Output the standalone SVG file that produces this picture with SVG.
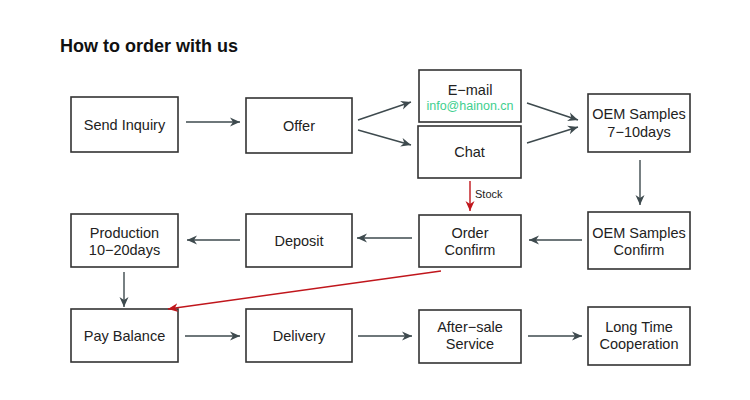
<svg xmlns="http://www.w3.org/2000/svg" width="750" height="400" viewBox="0 0 750 400">
<defs>
<marker id="ah" viewBox="0 0 10 10" refX="10" refY="5" markerWidth="10" markerHeight="10" markerUnits="userSpaceOnUse" orient="auto">
<path d="M0,0.5 L10,5 L0,9.5 L3,5 Z" fill="#3e4a4e"/>
</marker>
<marker id="ahr" viewBox="0 0 10 10" refX="10" refY="5" markerWidth="10" markerHeight="10" markerUnits="userSpaceOnUse" orient="auto">
<path d="M0,0.5 L10,5 L0,9.5 L3,5 Z" fill="#c0161c"/>
</marker>
</defs>
<style>
.box{fill:#fff;stroke:#333;stroke-width:1.6}
.t{font-family:"Liberation Sans",Arial,sans-serif;font-size:14.5px;fill:#222;text-anchor:middle}
.c{stroke:#3e4a4e;stroke-width:1.4;fill:none;marker-end:url(#ah)}
.r{stroke:#c0161c;stroke-width:1.4;fill:none;marker-end:url(#ahr)}
</style>
<rect width="750" height="400" fill="#fff"/>
<text x="60" y="52" font-family="Liberation Sans,Arial,sans-serif" font-size="18" font-weight="bold" fill="#111">How to order with us</text>

<g id="send-inquiry"><rect class="box" x="71" y="97" width="107" height="55"/><text class="t" x="124.5" y="130">Send Inquiry</text></g>
<g id="offer"><rect class="box" x="246" y="98" width="106" height="55"/><text class="t" x="299" y="131">Offer</text></g>
<g id="email"><rect class="box" x="419" y="70" width="102" height="52"/><text class="t" x="470" y="95">E−mail</text><text x="470" y="110" font-family="Liberation Sans,Arial,sans-serif" font-size="12.5" fill="#3ecf8e" text-anchor="middle">info@hainon.cn</text></g>
<g id="chat"><rect class="box" x="418" y="126" width="103" height="52"/><text class="t" x="469.5" y="157">Chat</text></g>
<g id="oem-samples"><rect class="box" x="588" y="94" width="102" height="58"/><text class="t" x="639" y="119">OEM Samples</text><text class="t" x="639" y="137">7−10days</text></g>

<g id="production"><rect class="box" x="71" y="214" width="107" height="53"/><text class="t" x="124.5" y="238">Production</text><text class="t" x="124.5" y="255">10−20days</text></g>
<g id="deposit"><rect class="box" x="246" y="214" width="106" height="53"/><text class="t" x="299" y="246">Deposit</text></g>
<g id="order-confirm"><rect class="box" x="419" y="215" width="102" height="52"/><text class="t" x="470" y="238">Order</text><text class="t" x="470" y="255">Confirm</text></g>
<g id="oem-confirm"><rect class="box" x="588" y="212" width="102" height="57"/><text class="t" x="639" y="238">OEM Samples</text><text class="t" x="639" y="255">Confirm</text></g>

<g id="pay-balance"><rect class="box" x="71" y="309" width="107" height="53"/><text class="t" x="124.5" y="341">Pay Balance</text></g>
<g id="delivery"><rect class="box" x="246" y="309" width="106" height="53"/><text class="t" x="299" y="341">Delivery</text></g>
<g id="after-sale"><rect class="box" x="419" y="310" width="102" height="53"/><text class="t" x="470" y="332">After−sale</text><text class="t" x="470" y="349">Service</text></g>
<g id="long-time"><rect class="box" x="588" y="307" width="102" height="58"/><text class="t" x="639" y="332">Long Time</text><text class="t" x="639" y="349">Cooperation</text></g>

<g id="connectors">
<line class="c" x1="186" y1="122" x2="240" y2="122"/>
<line class="c" x1="358" y1="120" x2="411" y2="102"/>
<line class="c" x1="358" y1="130" x2="411" y2="145"/>
<line class="c" x1="527" y1="103" x2="578" y2="120"/>
<line class="c" x1="527" y1="143" x2="578" y2="127"/>
<line class="c" x1="640" y1="160" x2="640" y2="205"/>
<line class="c" x1="582" y1="240" x2="529" y2="240"/>
<line class="c" x1="412" y1="238" x2="357" y2="238"/>
<line class="c" x1="240" y1="240" x2="187" y2="240"/>
<line class="c" x1="124" y1="272" x2="124" y2="307"/>
<line class="c" x1="185" y1="336" x2="240" y2="336"/>
<line class="c" x1="358" y1="336" x2="412" y2="336"/>
<line class="c" x1="528" y1="336" x2="582" y2="336"/>
<line class="r" x1="470" y1="181" x2="470" y2="211"/>
<line class="r" x1="441" y1="271" x2="168" y2="309"/>
<text x="475" y="198" font-family="Liberation Sans,Arial,sans-serif" font-size="11" fill="#222">Stock</text>
</g>
</svg>
